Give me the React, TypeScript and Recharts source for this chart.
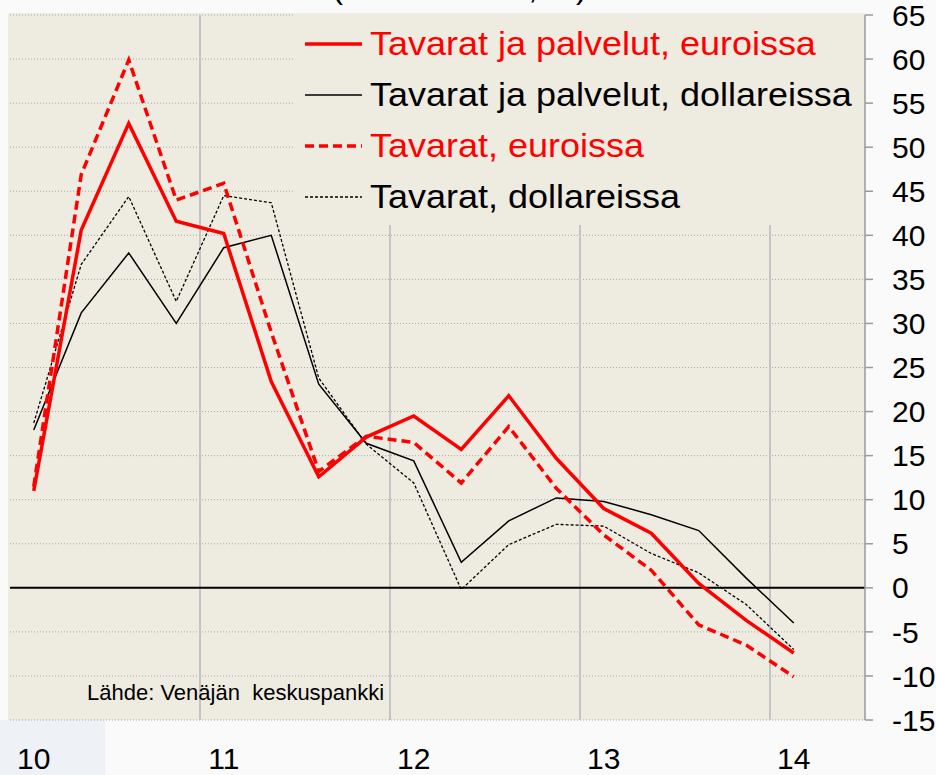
import React from 'react';
import { LineChart, Line, XAxis, YAxis, CartesianGrid, ReferenceLine, Legend } from 'recharts';

const quarters = [
  '2010Q1', '2010Q2', '2010Q3', '2010Q4',
  '2011Q1', '2011Q2', '2011Q3', '2011Q4',
  '2012Q1', '2012Q2', '2012Q3', '2012Q4',
  '2013Q1', '2013Q2', '2013Q3', '2013Q4',
  '2014Q1', '2014Q2',
];
const yearLabels = ['10', '11', '12', '13', '14'];
const yearTickIndex = [0, 4, 8, 12, 16];
const yearBoundaries = [3.5, 7.5, 11.5, 15.5];
const yTicks = [-15, -10, -5, 0, 5, 10, 15, 20, 25, 30, 35, 40, 45, 50, 55, 60, 65];

// Tavarat ja palvelut, euroissa
const tpEur = [11.0, 40.6, 52.7, 41.6, 40.2, 23.4, 12.6, 17.1, 19.5, 15.7, 21.8, 14.7, 9.0, 6.2, 0.5, -3.7, -7.4, null];
// Tavarat ja palvelut, dollareissa
const tpUsd = [17.9, 31.2, 38.0, 30.0, 38.6, 40.0, 23.1, 16.4, 14.4, 2.9, 7.6, 10.2, 9.8, 8.3, 6.5, 1.1, -4.0, null];
// Tavarat, euroissa
const tEur = [11.5, 46.9, 59.9, 44.0, 45.9, 29.0, 13.2, 17.2, 16.5, 11.9, 18.3, 11.3, 6.0, 2.0, -4.2, -6.5, -10.1, null];
// Tavarat, dollareissa
const tUsd = [18.7, 36.7, 44.4, 32.5, 44.5, 43.7, 23.8, 16.3, 11.9, -0.2, 4.9, 7.2, 7.0, 3.9, 1.7, -1.9, -7.0, null];

const data = quarters.map((q, i) => ({
  i,
  q,
  tpEur: tpEur[i],
  tpUsd: tpUsd[i],
  tEur: tEur[i],
  tUsd: tUsd[i],
}));

const FONT = '"Liberation Sans", Arial, Helvetica, sans-serif';
const BEIGE = '#EEEBE1';
const RED = '#FF0000';

const series = [
  { key: 'tpEur', name: 'Tavarat ja palvelut, euroissa', color: RED, width: 3.5, dash: undefined },
  { key: 'tpUsd', name: 'Tavarat ja palvelut, dollareissa', color: '#000000', width: 1.5, dash: undefined },
  { key: 'tEur', name: 'Tavarat, euroissa', color: RED, width: 3.5, dash: '9 5' },
  { key: 'tUsd', name: 'Tavarat, dollareissa', color: '#000000', width: 1.3, dash: '3 2' },
];

const drawOrder = ['tUsd', 'tpUsd', 'tEur', 'tpEur'];

const renderLegend = () => (
  <div style={{ width: 569, height: 212, background: BEIGE, paddingTop: 5, boxSizing: 'border-box' }}>
    {series.map((s) => (
      <div key={s.key} style={{ display: 'flex', alignItems: 'center', height: 51 }}>
        <svg width={67} height={10} style={{ flex: 'none' }}>
          <line x1={10} y1={5} x2={67} y2={5} stroke={s.color} strokeWidth={s.width} strokeDasharray={s.dash} />
        </svg>
        <span
          style={{
            marginLeft: 8,
            fontFamily: FONT,
            fontSize: 33,
            color: s.color,
            whiteSpace: 'nowrap',
            lineHeight: '40px',
            display: 'inline-block',
            transform: 'scaleX(1.09)',
            transformOrigin: 'left center',
          }}
        >
          {s.name}
        </span>
      </div>
    ))}
  </div>
);

export default function App() {
  return (
    <div style={{ position: 'absolute', left: 0, top: 0, width: 936, height: 775, background: '#FAFAFB', overflow: 'hidden' }}>
      <div style={{ position: 'absolute', left: 0, top: 720, width: 105, height: 55, background: '#EEF1F6' }} />
      <div style={{ position: 'absolute', left: 8, top: 13, width: 857, height: 707, background: BEIGE }} />
      <div style={{ position: 'absolute', left: 0, top: 0 }}>
        <LineChart width={936} height={775} data={data} margin={{ top: 15, right: 0, left: 10, bottom: 0 }}>
          <CartesianGrid vertical={false} stroke="#A8A8A8" strokeDasharray="1 2" />
          <XAxis
            type="number"
            dataKey="i"
            domain={[-0.5, 17.5]}
            ticks={yearTickIndex}
            tickFormatter={(v) => yearLabels[yearTickIndex.indexOf(v)]}
            axisLine={false}
            tickLine={false}
            tickSize={6}
            tickMargin={22}
            height={55}
            tick={{ fontSize: 30, fill: '#000', fontFamily: FONT }}
            interval={0}
          />
          <YAxis
            orientation="right"
            domain={[-15, 65]}
            ticks={yTicks}
            width={71}
            interval={0}
            axisLine={{ stroke: '#9A9A9A', strokeWidth: 1.5 }}
            tickLine={{ stroke: '#9A9A9A', strokeWidth: 1.5 }}
            tickSize={8}
            tickMargin={19}
            tick={{ fontSize: 30, fill: '#000', fontFamily: FONT, textAnchor: 'start' }}
          />
          {yearBoundaries.map((x) => (
            <ReferenceLine key={x} x={x} stroke="#C4C4C4" strokeWidth={2} ifOverflow="hidden" />
          ))}
          <ReferenceLine y={0} stroke="#000" strokeWidth={2} />
          {drawOrder.map((k) => {
            const s = series.find((d) => d.key === k)!;
            return (
              <Line
                key={s.key}
                type="linear"
                dataKey={s.key}
                name={s.name}
                stroke={s.color}
                strokeWidth={s.width}
                strokeDasharray={s.dash}
                dot={false}
                activeDot={false}
                isAnimationActive={false}
              />
            );
          })}
          <Legend
            layout="vertical"
            align="center"
            verticalAlign="middle"
            wrapperStyle={{ position: 'absolute', left: 295, top: 13, width: 569, height: 212, margin: 0, padding: 0 }}
            content={renderLegend}
          />
        </LineChart>
      </div>
      <svg width={936} height={775} style={{ position: 'absolute', left: 0, top: 0, pointerEvents: 'none' }}>
        <text x={332} y={-2} fontFamily={FONT} fontSize={33} fill="#000">(vuosimuutos, %)</text>
        <text x={87} y={700} fontFamily={FONT} fontSize={22} fill="#000" xmlSpace="preserve">Lähde: Venäjän  keskuspankki</text>
      </svg>
    </div>
  );
}
